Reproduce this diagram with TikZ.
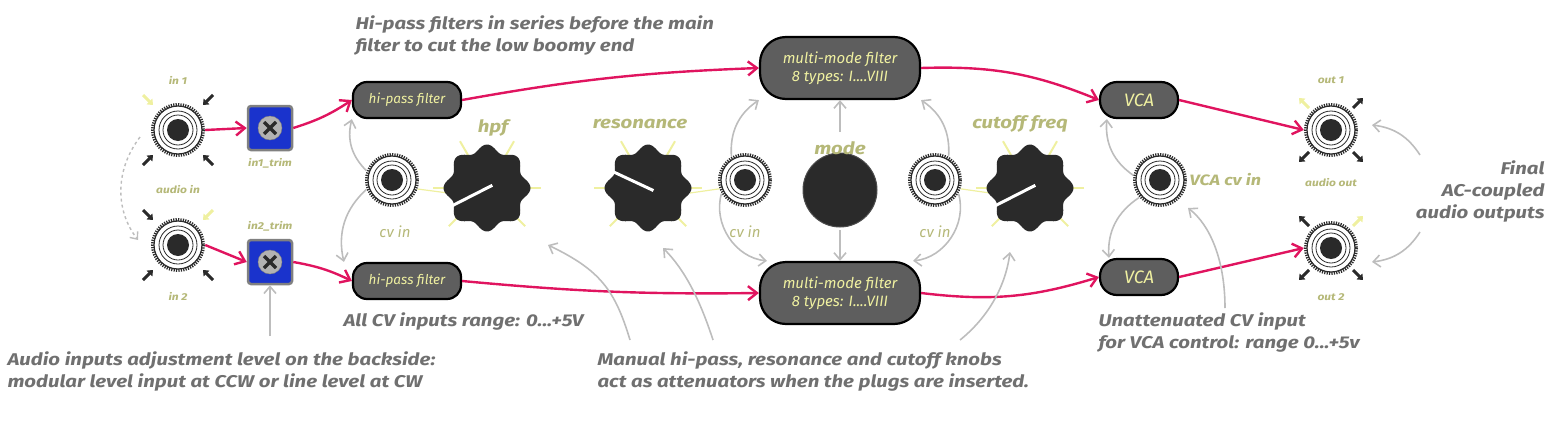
\documentclass[tikz,border=0pt]{standalone}
\usepackage{fontspec}
\setmainfont{Fira Sans}
\newfontfamily\annfont[FakeStretch=1.2]{Fira Sans}
\usetikzlibrary{arrows.meta}
\definecolor{pk}{HTML}{E0145F}
\definecolor{yl}{HTML}{EFF0A0}
\definecolor{lbl}{HTML}{B5B878}
\definecolor{bx}{HTML}{5E5E5E}
\definecolor{dk}{HTML}{2A2A2A}
\definecolor{gr}{HTML}{BDBDBD}
\definecolor{ann}{HTML}{707070}
\definecolor{tb}{HTML}{1A33CC}
\tikzset{
 modbox/.style={draw=black,line width=2.2pt,fill=bx,rounded corners=14pt,text=yl,font=\itshape\fontsize{15}{18}\selectfont,align=center,inner sep=4pt},
 sig/.style={pk,line width=2.4pt,-{Straight Barb[length=9pt,width=14pt,line width=2.4pt]}},
 cvar/.style={gr,line width=1.6pt,-{Straight Barb[length=7pt,width=12pt,line width=1.6pt]}},
 lab/.style={text=lbl,font=\annfont\itshape\bfseries\fontsize{10}{12}\selectfont},
 clab/.style={text=lbl,font=\itshape\fontsize{15}{18}\selectfont},
 klab/.style={text=lbl,font=\annfont\itshape\bfseries\fontsize{17}{20}\selectfont},
 anno/.style={text=ann,font=\annfont\itshape\bfseries\fontsize{17}{22}\selectfont,align=left},
 cr/.style={line width=3pt,-{Triangle[length=5pt,width=8pt]}},
}
\newcommand{\myjack}[2]{%
 \fill[white] (#1) circle (27);
 \draw[dk,line width=3pt,dash pattern=on 1.2pt off 1.2pt] (#1) circle (25.5);
 \draw[dk,line width=1.2pt] (#1) circle (24);
 \draw[dk,line width=0.8pt] (#1) circle (19);
 \draw[dk,line width=0.8pt] (#1) circle (15);
 \fill[dk] (#1) circle (11);
 \node[circle,minimum size=54pt,inner sep=0pt] (#2) at (#1) {};}
\newcommand{\myknob}[2]{%
 \begin{scope}[shift={(#1)}]
 \foreach \a in {0,180,-60,-120,135,45}{\draw[yl,line width=2pt] (\a:38) -- (\a:54);}
 \fill[dk] plot[domain=0:360,samples=120,smooth] (\x:{40+3.5*cos(8*\x)}) -- cycle;
 \draw[white,line width=3pt] (#2:6) -- (#2+180:46);
 \end{scope}}
\begin{document}
\begin{tikzpicture}[x=1pt,y=-1pt]
\useasboundingbox (0,0) rectangle (1555,434);
\myjack{178,130}{in1}
\myjack{178,245}{in2}
\node[lab] at (178,80) {in 1};
\node[lab] at (178,190) {audio in};
\node[lab] at (178,296) {in 2};
\draw[cr,yl] (143,95) -- (153,105);
\draw[cr,dk] (213,95) -- (203,105);
\draw[cr,dk] (143,165) -- (153,155);
\draw[cr,dk] (213,165) -- (203,155);
\draw[cr,dk] (143,210) -- (153,220);
\draw[cr,yl] (213,210) -- (203,220);
\draw[cr,dk] (143,280) -- (153,270);
\draw[cr,dk] (213,280) -- (203,270);
\draw[gr,line width=1.4pt,dashed,-{Straight Barb[length=6pt,width=10pt]}] (140,137) .. controls (115,170) and (115,210) .. (138,240);
\foreach \y/\n in {128/t1,262/t2}{
 \node[draw=gray,line width=2.5pt,fill=tb,minimum size=44pt,rounded corners=3pt] (\n) at (270,\y) {};
 \fill[gray!60,draw=gray] (270,\y) circle (12);
 \draw[dk,line width=3.5pt] (270,\y)++(-6,-6) -- ++(12,12) (270,\y)++(6,-6) -- ++(-12,12);}
\node[lab] at (270,163) {in1\_trim};
\node[lab] at (270,226) {in2\_trim};
\node[modbox,minimum width=108pt,minimum height=36pt,font=\itshape\fontsize{13.5}{15}\selectfont] (hp1) at (407,100) {hi-pass filter};
\node[modbox,minimum width=108pt,minimum height=36pt,font=\itshape\fontsize{13.5}{15}\selectfont] (hp2) at (407,281) {hi-pass filter};
\node[modbox,minimum width=160pt,minimum height=62pt,rounded corners=26pt] (mm1) at (840,68) {multi-mode filter\\8 types: I....VIII};
\node[modbox,minimum width=160pt,minimum height=62pt,rounded corners=26pt] (mm2) at (840,293) {multi-mode filter\\8 types: I....VIII};
\node[modbox,minimum width=78pt,minimum height=36pt,rounded corners=17pt,font=\itshape\fontsize{18}{20}\selectfont] (v1) at (1139,100) {VCA};
\node[modbox,minimum width=78pt,minimum height=36pt,rounded corners=17pt,font=\itshape\fontsize{18}{20}\selectfont] (v2) at (1139,277) {VCA};
\draw[yl,line width=1.2pt] (410,188) -- (448,193);
\draw[yl,line width=1.2pt] (690,193) -- (725,188);
\draw[yl,line width=1.2pt] (955,188) -- (990,193);
\myknob{487,188}{-27}
\myknob{648,188}{25}
\myknob{1030,188}{-27}
\myjack{392,180}{cv1}
\myjack{745,180}{cv2}
\myjack{935,180}{cv3}
\myjack{1160,180}{cv4}
\fill[dk] (840,190) circle (37);
\draw[black!70,line width=1pt] (840,190) circle (37);
\coordinate (mode) at (840,190);
\node[klab] at (493,128) {hpf};
\node[klab] at (640,124) {resonance};
\node[klab] at (840,148) {mode};
\node[klab] at (1020,124) {cutoff freq};
\node[clab] at (395,232) {cv in};
\node[clab] at (745,232) {cv in};
\node[clab] at (935,232) {cv in};
\node[clab,anchor=west,font=\annfont\itshape\bfseries\fontsize{15}{18}\selectfont] at (1186,180) {VCA cv in};
\myjack{1331,130}{o1}
\myjack{1331,248}{o2}
\node[lab] at (1331,80) {out 1};
\node[lab] at (1331,183) {audio out};
\node[lab] at (1331,297) {out 2};
\draw[cr,yl] (1309,108) -- (1299,98);
\draw[cr,dk] (1353,108) -- (1363,98);
\draw[cr,dk] (1309,152) -- (1299,162);
\draw[cr,dk] (1353,152) -- (1363,162);
\draw[cr,dk] (1309,226) -- (1299,216);
\draw[cr,yl] (1353,226) -- (1363,216);
\draw[cr,dk] (1309,270) -- (1299,280);
\draw[cr,dk] (1353,270) -- (1363,280);
\draw[sig] (in1.east) -- (t1.west);
\draw[sig] (in2.east) -- (t2.west);
\draw[sig] (t1.east) to[bend right=8] (hp1.west);
\draw[sig] (t2.east) to[bend left=8] (hp2.west);
\draw[sig] (hp1.east) to[bend left=4] (mm1.west);
\draw[sig] (hp2.east) to[bend left=-3] (mm2.west);
\draw[sig] (mm1.east) to[bend left=12] (v1.west);
\draw[sig] (mm2.east) to[bend right=12] (v2.west);
\draw[sig] (v1.east) -- (o1.west);
\draw[sig] (v2.east) -- (o2.west);
\draw[cvar] (cv1.160) to[bend left=30] (hp1.south west);
\draw[cvar] (cv1.200) to[bend right=30] ([xshift=-8pt]hp2.north west);
\draw[cvar] (cv2.120) to[bend left=30] (mm1.south west);
\draw[cvar] (cv2.210) to[bend right=50] ([xshift=8pt]mm2.north west);
\draw[cvar] (cv3.60) to[bend right=30] (mm1.south east);
\draw[cvar] (cv3.330) to[bend left=50] ([xshift=-8pt]mm2.north east);
\draw[cvar] (840,132) -- (mm1.south);
\draw[cvar] (mode)++(0,40) -- (mm2.north);
\draw[cvar] (cv4.170) to[bend left=30] ([xshift=8pt]v1.south west);
\draw[cvar] (cv4.220) to[bend right=30] ([xshift=10pt]v2.north west);
\node[anno,anchor=north west] at (352,12) {Hi-pass filters in series before the main\\filter to cut the low boomy end};
\node[anno,anchor=west] at (340,322) {All CV inputs range: 0...+5V};
\node[anno,anchor=north west] at (4,348) {Audio inputs adjustment level on the backside:\\modular level input at CCW or line level at CW};
\node[anno,anchor=north west] at (594,348) {Manual hi-pass, resonance and cutoff knobs\\act as attenuators when the plugs are inserted.};
\node[anno,anchor=north west] at (1095,309) {Unattenuated CV input\\for VCA control: range 0...+5v};
\node[anno,align=right,anchor=east] at (1548,192) {Final\\AC-coupled\\audio outputs};
\coordinate (a1) at (270,336); \draw[cvar] (a1) -- (t2.south);
\draw[cvar] (630,340) .. controls (615,290) and (600,270) .. (548,245);
\draw[cvar] (713,340) .. controls (700,300) and (685,270) .. (663,248);
\draw[cvar] (960,340) .. controls (985,320) and (1005,290) .. (1010,252);
\draw[cvar] (1225,308) .. controls (1225,260) and (1210,225) .. (1188,208);
\draw[cvar] (1420,155) to[bend right=25] (1372,125);
\draw[cvar] (1420,232) to[bend left=25] (1372,262);
\end{tikzpicture}
\end{document}
